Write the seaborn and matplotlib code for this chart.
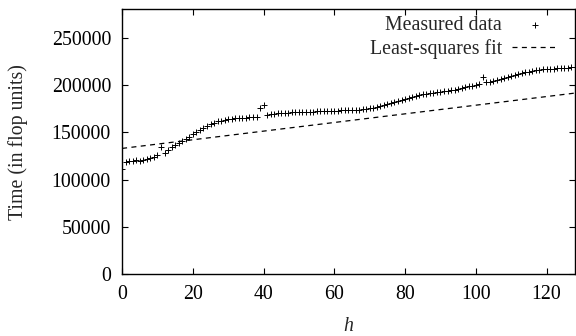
import numpy as np
import matplotlib
matplotlib.use("Agg")
import matplotlib.pyplot as plt
import seaborn as sns

# measured timings, h = 0..128
h_vals = list(range(129))
time_vals = [
    111000, 119000, 119500, 120000, 120500, 120000, 121000, 122000, 123000, 124000,
    126000, 134000, 128500, 131000, 134000, 136500, 139000, 141000, 143000, 145500,
    148000, 150500, 152500, 155000, 157000, 158500, 160000, 161500, 162500, 163500,
    164000, 164500, 165000, 165000, 165500, 165500, 166000, 166000, 166500, 176000,
    178500, 168500, 169000, 169500, 170000, 170000, 170500, 170500, 171000, 171000,
    171500, 171500, 172000, 172000, 172000, 172500, 172500, 172500, 173000, 173000,
    173000, 173000, 173500, 173500, 173500, 173500, 174000, 174000, 174500, 175000,
    175500, 176000, 177000, 178000, 179000, 180000, 181000, 182500, 183500, 184500,
    185500, 186500, 187500, 188500, 189500, 190500, 191000, 191500, 192000, 192500,
    193000, 193500, 194000, 194500, 195000, 195500, 196500, 197500, 198500, 199500,
    200500, 201000, 208000, 203000, 203500, 204000, 205000, 206000, 207000, 208500,
    209500, 210500, 211500, 212500, 213500, 214000, 214500, 215500, 216000, 216500,
    217000, 217500, 217500, 218000, 218000, 218500, 218500, 219000, 219000,
]

# least-squares line (end points)
fit_h = [0, 128]
fit_time = [133000, 191500]

sns.set_theme(style="ticks")
plt.rcParams['font.family'] = ['Liberation Serif', 'DejaVu Serif']

fig = plt.figure(figsize=(5.76, 3.36), dpi=100)
ax = fig.add_axes([0.212, 0.184, 0.786, 0.788])

sns.scatterplot(x=h_vals, y=time_vals, marker='+', s=20, color='black',
                linewidth=0.7, label='Measured data', ax=ax)
sns.lineplot(x=fit_h, y=fit_time, color='black', linewidth=0.9,
             label='Least-squares fit', ax=ax)
ax.lines[-1].set_dashes((4, 3.5))

ax.set_xlim(0, 128)
ax.set_ylim(0, 280000)
ax.set_xticks(range(0, 121, 20))
ax.set_yticks(range(0, 250001, 50000))
ax.tick_params(direction='in', length=4, width=0.8, top=True, right=True,
               labelsize=14.3, colors='black', pad=8)
for sp in ax.spines.values():
    sp.set_visible(True)
    sp.set_linewidth(1.0)
    sp.set_color('black')

ax.set_xlabel('h', fontsize=14.3, style='italic', labelpad=9)
ax.set_ylabel('Time (in flop units)', fontsize=14.3, labelpad=17)

ax.legend(loc='upper right', bbox_to_anchor=(0.980, 1.004), markerfirst=False,
          frameon=False, fontsize=14.3, handlelength=2.3, handletextpad=0.5,
          borderaxespad=0, labelspacing=0.2)

fig.savefig('out.png', dpi=100)
